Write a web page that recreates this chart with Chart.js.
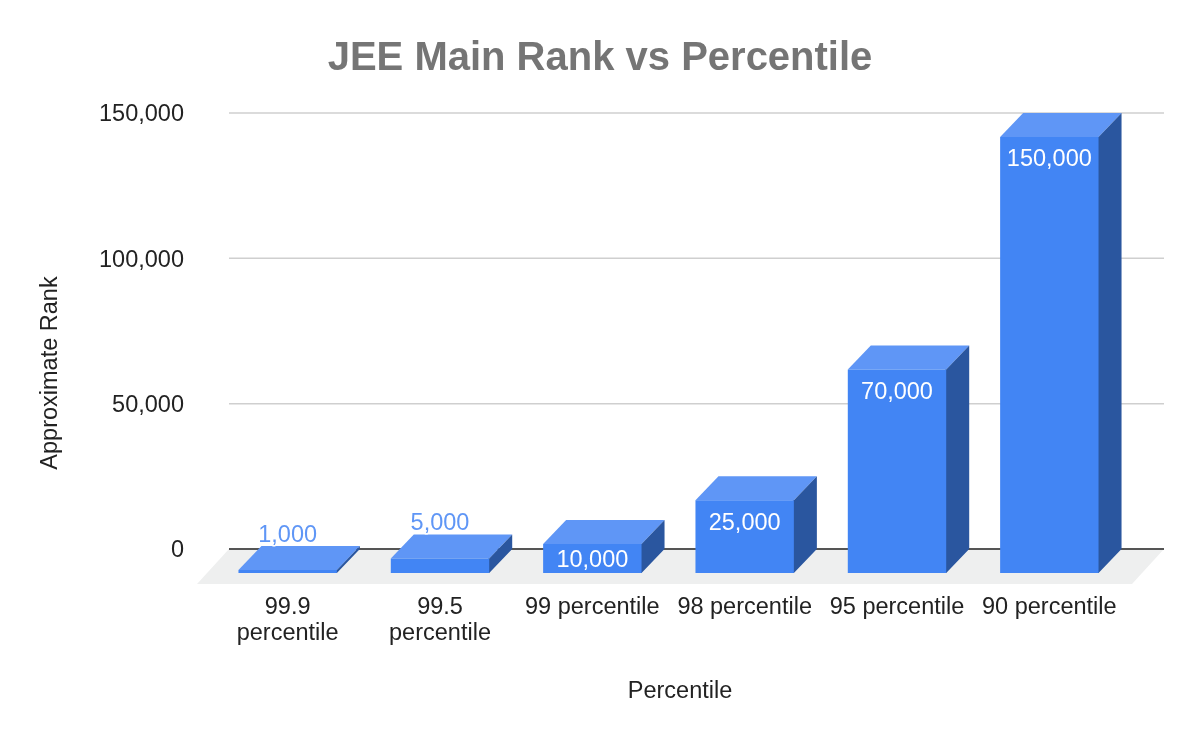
<!DOCTYPE html>
<html lang="en">
<head>
    <meta charset="UTF-8">
    <title>JEE Main Rank vs Percentile</title>
    <script src="https://cdn.jsdelivr.net/npm/chart.js"></script>
    <style>
        body { margin: 0; background: #fff; }
        canvas { display: block; }
    </style>
</head>
<body>
    <canvas id="rankChart" width="1200" height="740"></canvas>

    <script>
        const percentiles = [['99.9', 'percentile'], ['99.5', 'percentile'], '99 percentile', '98 percentile', '95 percentile', '90 percentile'];
        const ranks = [1000, 5000, 10000, 25000, 70000, 150000];
        const rankTicks = [0, 50000, 100000, 150000];

        const fontName = '"Liberation Sans", Arial, sans-serif';
        const textSize = 23.5;

        // Front face sits in front of the back wall, the depth goes back up to the right
        const frontX = -11.5, frontY = 24;
        const depthX = 23, depthY = -24;

        // Back wall lines and floor run a bit past the category scale
        const wallLeft = 229, wallRight = 1164;
        const floorX = -32, floorY = 35;

        function polygon(ctx, color, pts) {
            ctx.fillStyle = color;
            ctx.beginPath();
            pts.forEach((p, i) => i ? ctx.lineTo(p[0], p[1]) : ctx.moveTo(p[0], p[1]));
            ctx.closePath();
            ctx.fill();
        }

        const box3d = {
            id: 'box3d',
            beforeDatasetsDraw(chart) {
                const ctx = chart.ctx;
                const y = chart.scales.y;
                const zero = y.getPixelForValue(0);

                // floor
                polygon(ctx, '#eeefef', [
                    [wallLeft, zero], [wallRight, zero],
                    [wallRight + floorX, zero + floorY], [wallLeft + floorX, zero + floorY]
                ]);

                // grid lines
                rankTicks.forEach(v => {
                    const py = y.getPixelForValue(v);
                    ctx.strokeStyle = v === 0 ? '#555555' : '#cfcfcf';
                    ctx.lineWidth = v === 0 ? 2 : 1.5;
                    ctx.beginPath();
                    ctx.moveTo(wallLeft, py);
                    ctx.lineTo(wallRight, py);
                    ctx.stroke();
                });

                // y axis title
                ctx.save();
                ctx.translate(51, 373);
                ctx.rotate(-Math.PI / 2);
                ctx.fillStyle = '#222';
                ctx.font = textSize + 'px ' + fontName;
                ctx.textAlign = 'center';
                ctx.textBaseline = 'middle';
                ctx.fillText('Approximate Rank', 0, 0);
                ctx.restore();
            },
            beforeDatasetDraw(chart, args) {
                const ctx = chart.ctx;
                args.meta.data.forEach(bar => {
                    const left = bar.x - bar.width / 2 + frontX;
                    const right = bar.x + bar.width / 2 + frontX;
                    const top = bar.y + frontY;
                    const bottom = bar.base + frontY;
                    polygon(ctx, '#5f96f6', [[left, top], [right, top], [right + depthX, top + depthY], [left + depthX, top + depthY]]);
                    // side starts a pixel behind the front face so no seam shows
                    polygon(ctx, '#2a569f', [[right - 1, top], [right, top], [right + depthX, top + depthY], [right + depthX, bottom + depthY], [right, bottom], [right - 1, bottom]]);
                });
                // the library draws the front faces, shifted onto the front plane
                ctx.save();
                ctx.translate(frontX, frontY);
            },
            afterDatasetDraw(chart) {
                chart.ctx.restore();
            },
            afterDatasetsDraw(chart) {
                const ctx = chart.ctx;
                ctx.font = textSize + 'px ' + fontName;
                ctx.textAlign = 'center';
                ctx.textBaseline = 'middle';
                chart.getDatasetMeta(0).data.forEach((bar, i) => {
                    const text = ranks[i].toLocaleString('en-US');
                    const x = bar.x + frontX;
                    const top = bar.y + frontY;
                    const bottom = bar.base + frontY;
                    if (bottom - top < 25) {
                        // too flat for the label, it goes above the box
                        ctx.strokeStyle = '#fff';
                        ctx.lineWidth = 3;
                        ctx.lineJoin = 'round';
                        ctx.strokeText(text, x, top - 35);
                        ctx.fillStyle = '#5f96f6';
                        ctx.fillText(text, x, top - 35);
                    } else {
                        ctx.fillStyle = '#fff';
                        ctx.fillText(text, x, Math.min(top + 23, (top + bottom) / 2 + 2));
                    }
                });
            }
        };

        new Chart(document.getElementById('rankChart'), {
            type: 'bar',
            data: {
                labels: percentiles,
                datasets: [{
                    label: 'Approximate Rank',
                    data: ranks,
                    backgroundColor: '#4285f4',
                    borderWidth: 0,
                    categoryPercentage: 1,
                    barPercentage: 0.646,
                    clip: false
                }]
            },
            options: {
                responsive: false,
                animation: false,
                layout: { padding: { left: 63, right: 63 } },
                plugins: {
                    legend: { display: false },
                    tooltip: { enabled: false },
                    title: {
                        display: true,
                        text: 'JEE Main Rank vs Percentile',
                        color: '#757575',
                        font: { family: fontName, size: 40, weight: 'bold' },
                        padding: { top: 35, bottom: 30 }
                    }
                },
                scales: {
                    x: {
                        grid: { display: false },
                        border: { display: false },
                        afterFit(scale) { scale.height = 191; },
                        ticks: {
                            color: '#222',
                            font: { family: fontName, size: textSize, lineHeight: 1.1 },
                            padding: 38,
                            labelOffset: frontX,
                            autoSkip: false,
                            maxRotation: 0
                        },
                        title: {
                            display: true,
                            text: 'Percentile',
                            color: '#222',
                            font: { family: fontName, size: textSize },
                            padding: { top: 0, bottom: 34 }
                        }
                    },
                    y: {
                        min: 0,
                        max: 150000,
                        grid: { display: false },
                        border: { display: false },
                        afterFit(scale) { scale.width = 160; },
                        afterBuildTicks(scale) { scale.ticks = rankTicks.map(value => ({ value })); },
                        ticks: {
                            color: '#222',
                            font: { family: fontName, size: textSize },
                            padding: 31,
                            labelOffset: 2,
                            callback: v => v.toLocaleString('en-US')
                        }
                    }
                }
            },
            plugins: [box3d]
        });
    </script>
</body>
</html>
